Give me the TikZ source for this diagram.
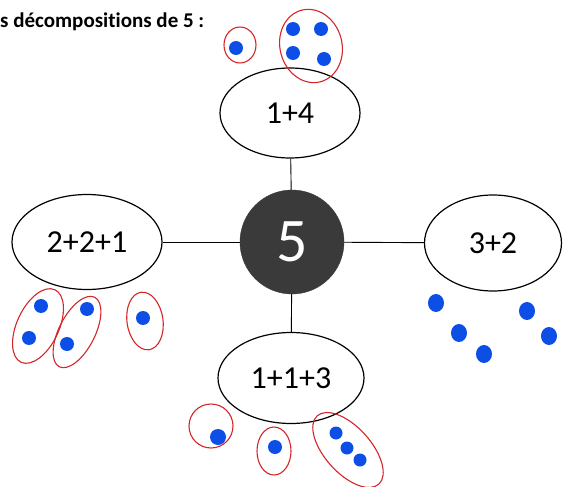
\documentclass[tikz,border=0pt]{standalone}
\usepackage{fontspec}
\setmainfont{Carlito}[Ligatures=NoCommon]
\usepackage{xcolor}
\definecolor{DotBlue}{RGB}{12,78,230}
\definecolor{LoopRed}{RGB}{212,38,42}
\definecolor{DiskGray}{RGB}{58,58,58}
\usetikzlibrary{shapes.geometric}

\begin{document}
\begin{tikzpicture}[x=1pt, y=-1pt,
  decomp/.style={draw, ellipse, line width=1.2pt, inner sep=0pt, font=\fontsize{32}{34}\selectfont},
  dot/.style={fill=DotBlue},
  loop/.style={draw=LoopRed, line width=1.1pt}]
\useasboundingbox (0, 0) rectangle (568, 487);

% title
\node[anchor=west, inner sep=0pt, font=\bfseries\fontsize{21}{23}\selectfont] (title) at (0, 22) {s décompositions de 5 :};

% centre and the four decompositions
\node[circle, fill=DiskGray, draw=DiskGray, minimum size=104pt, inner sep=0pt, text=white, font=\fontsize{62}{64}\selectfont] (five) at (292, 242) {5};
\node[decomp, minimum width=140pt, minimum height=90pt] (d14) at (290, 113) {1+4};
\node[decomp, minimum width=150pt, minimum height=95pt] (d221) at (87, 242) {2+2+1};
\node[decomp, minimum width=137pt, minimum height=96pt] (d32) at (493, 243) {3+2};
\node[decomp, minimum width=146pt, minimum height=91pt] (d113) at (291, 378) {1+1+3};

\draw[line width=0.9pt] (five) -- (d14);
\draw[line width=0.9pt] (five) -- (d221);
\draw[line width=0.9pt] (five) -- (d32);
\draw[line width=0.9pt] (five) -- (d113);

% 1+4
\fill[dot] (236, 48) circle (7pt);
\draw[loop] (240, 45) ellipse [x radius=16pt, y radius=18pt];
\foreach \p in {(293, 29), (321, 29), (293, 53), (324, 59)}
  \fill[dot] \p circle (7pt);
\draw[loop] (311, 46) ellipse [x radius=31pt, y radius=37pt, rotate=15];

% 2+2+1
\foreach \p in {(41, 306), (29, 338), (87, 309), (67, 344), (143, 318)}
  \fill[dot] \p circle (7pt);
\draw[loop] (38, 326) ellipse [x radius=40pt, y radius=21pt, rotate=65];
\draw[loop] (77, 332) ellipse [x radius=39pt, y radius=18pt, rotate=63];
\draw[loop] (145, 321) ellipse [x radius=18pt, y radius=29pt, rotate=8];

% 3+2
\foreach \p in {(436, 303), (459, 333), (484, 354), (527, 311), (549, 336)}
  \fill[dot] \p ellipse [x radius=8pt, y radius=9pt];

% 1+1+3
\fill[dot] (218, 437) circle (8pt);
\draw[loop] (211, 426) ellipse [x radius=22pt, y radius=22pt];
\fill[dot] (275, 447) circle (7pt);
\draw[loop] (274, 451) ellipse [x radius=17pt, y radius=24pt];
\foreach \p in {(336, 433), (347, 448), (360, 460)}
  \fill[dot] \p circle (6.5pt);
\draw[loop] (348, 450) ellipse [x radius=46pt, y radius=23pt, rotate=-48];
\end{tikzpicture}
\end{document}
